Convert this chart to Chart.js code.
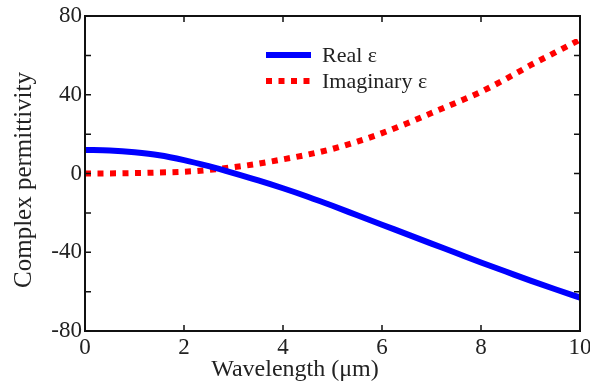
<!DOCTYPE html>
<html>
<head>
<meta charset="utf-8">
<script src="https://cdn.jsdelivr.net/npm/chart.js@4/dist/chart.umd.min.js"></script>
<style>
  html, body { margin: 0; padding: 0; background: #fff; }
  #wrap { width: 590px; height: 383px; }
</style>
</head>
<body>
<div id="wrap"><canvas id="chart" width="590" height="383"></canvas></div>
<script>
// wavelength in um
const wavelength = [0, 0.5, 1, 1.5, 2, 2.5, 3, 3.5, 4, 4.5, 5, 5.5, 6, 6.5, 7, 7.5, 8, 8.5, 9, 9.5, 10];
const realEps = [12, 11.7, 10.8, 9.3, 6.8, 3.7, 0.2, -3.5, -7.5, -11.8, -16.4, -21.2, -26, -30.8, -35.6, -40.4, -45.2, -49.8, -54.4, -58.8, -63];
const imagEps = [0, 0.05, 0.2, 0.5, 0.9, 1.8, 3.2, 5, 7.2, 9.6, 12.5, 16.2, 20.5, 25.4, 30.7, 36, 41.5, 48, 55, 61.5, 68];
const xTicks = [0, 2, 4, 6, 8, 10];
const yTicks = [-80, -60, -40, -20, 0, 20, 40, 60, 80];
const yLabels = [-80, -40, 0, 40, 80];
const seriesNames = ['Real \u03b5', 'Imaginary \u03b5'];
const xTitle = 'Wavelength (\u03bcm)';
const yTitle = 'Complex permittivity';

const serif = "'Liberation Serif', 'DejaVu Serif', serif";

// frame, inward ticks, axis titles and the legend inside the plot
const framePlugin = {
    id: 'frame',
    afterDraw(chart) {
        const ctx = chart.ctx;
        const a = chart.chartArea;
        const xs = chart.scales.x, ys = chart.scales.y;
        ctx.save();
        ctx.strokeStyle = '#111';
        ctx.lineWidth = 2;
        ctx.strokeRect(a.left, a.top, a.right - a.left, a.bottom - a.top);
        ctx.lineWidth = 1.5;
        ctx.beginPath();
        xTicks.forEach(v => {
            const px = xs.getPixelForValue(v);
            ctx.moveTo(px, a.bottom); ctx.lineTo(px, a.bottom - 6);
            ctx.moveTo(px, a.top); ctx.lineTo(px, a.top + 6);
        });
        yTicks.forEach(v => {
            const py = ys.getPixelForValue(v);
            ctx.moveTo(a.left, py); ctx.lineTo(a.left + 6, py);
            ctx.moveTo(a.right, py); ctx.lineTo(a.right - 6, py);
        });
        ctx.stroke();

        // axis titles
        ctx.fillStyle = '#222';
        ctx.textAlign = 'center';
        ctx.textBaseline = 'middle';
        ctx.font = '24px ' + serif;
        ctx.fillText(xTitle, 295, 370);
        ctx.save();
        ctx.translate(24, 180);
        ctx.rotate(-Math.PI / 2);
        ctx.font = '25px ' + serif;
        ctx.fillText(yTitle, 0, 0);
        ctx.restore();

        // legend
        ctx.textAlign = 'left';
        ctx.font = '22px ' + serif;
        const ds = chart.data.datasets;
        const rows = [55, 81];
        ds.forEach((d, i) => {
            ctx.strokeStyle = d.borderColor;
            ctx.lineWidth = d.borderWidth;
            ctx.setLineDash(d.borderDash || []);
            ctx.beginPath();
            ctx.moveTo(266, rows[i]);
            ctx.lineTo(311, rows[i]);
            ctx.stroke();
            ctx.setLineDash([]);
            ctx.fillText(d.label, 322, rows[i] + 1);
        });
        ctx.restore();
    }
};

const ctx = document.getElementById('chart').getContext('2d');
const chart = new Chart(ctx, {
    type: 'line',
    data: {
        datasets: [
            {
                label: seriesNames[0],
                data: wavelength.map((w, i) => ({ x: w, y: realEps[i] })),
                borderColor: '#0000ff',
                borderWidth: 6,
                pointRadius: 0,
                cubicInterpolationMode: 'monotone',
                fill: false
            },
            {
                label: seriesNames[1],
                data: wavelength.map((w, i) => ({ x: w, y: imagEps[i] })),
                borderColor: '#ff0000',
                borderWidth: 6,
                borderDash: [6, 6.5],
                pointRadius: 0,
                cubicInterpolationMode: 'monotone',
                fill: false
            }
        ]
    },
    options: {
        responsive: false,
        animation: false,
        layout: { padding: { top: 16, right: 10, left: 0, bottom: 0 } },
        plugins: { legend: { display: false }, tooltip: { enabled: false } },
        scales: {
            x: {
                type: 'linear',
                min: 0, max: 10,
                grid: { display: false, drawTicks: false },
                border: { display: false },
                afterBuildTicks: s => { s.ticks = xTicks.map(v => ({ value: v })); },
                afterFit: s => { s.height = 52; s.paddingLeft = 0; s.paddingRight = 0; },
                ticks: {
                    color: '#222',
                    padding: 3,
                    font: { family: serif, size: 23 },
                    maxRotation: 0,
                    callback: v => String(v)
                }
            },
            y: {
                type: 'linear',
                min: -80, max: 80,
                grid: { display: false, drawTicks: false },
                border: { display: false },
                afterBuildTicks: s => { s.ticks = yLabels.map(v => ({ value: v })); },
                afterFit: s => { s.width = 85; s.paddingTop = 0; s.paddingBottom = 0; },
                ticks: {
                    color: '#222',
                    padding: 3,
                    font: { family: serif, size: 23 },
                    callback: v => String(v)
                }
            }
        }
    },
    plugins: [framePlugin]
});
</script>
</body>
</html>
